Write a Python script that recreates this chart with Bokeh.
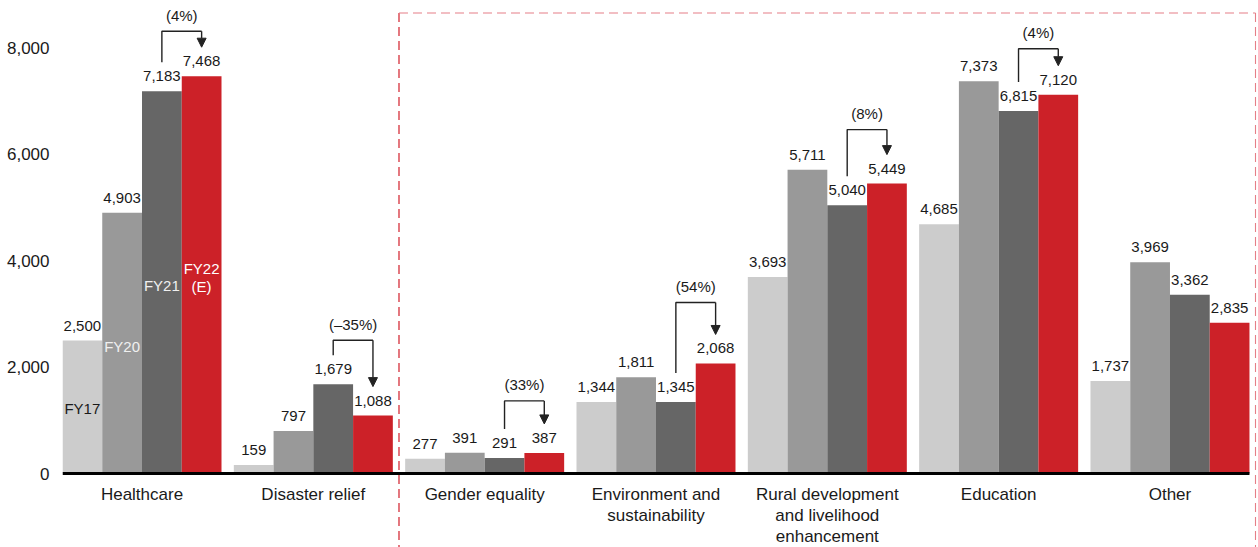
from bokeh.plotting import figure
from bokeh.models import (ColumnDataSource, FixedTicker, NumeralTickFormatter,
                          Arrow, NormalHead, Range1d)
from bokeh.core.properties import value
from bokeh.embed import file_html
from bokeh.resources import INLINE

# ---------------- data ----------------
categories = ["Healthcare", "Disaster relief", "Gender equality",
              "Environment and\nsustainability",
              "Rural development\nand livelihood\nenhancement",
              "Education", "Other"]
series_names = ["FY17", "FY20", "FY21", "FY22\n(E)"]
fy17 = [2500, 159, 277, 1344, 3693, 4685, 1737]
fy20 = [4903, 797, 391, 1811, 5711, 7373, 3969]
fy21 = [7183, 1679, 291, 1345, 5040, 6815, 3362]
fy22 = [7468, 1088, 387, 2068, 5449, 7120, 2835]
changes = ["(4%)", "(\u201335%)", "(33%)", "(54%)", "(8%)", "(4%)", None]
y_ticks = [0, 2000, 4000, 6000, 8000]
highlight_from = 2  # first category inside the dashed box

# ---------------- style / layout ----------------
FONT = "Liberation Sans"
colors = ["#cccccc", "#999999", "#666666", "#cc2128"]
legend_colors = ["#1a1a1a", "#f0f0f0", "#f0f0f0", "#ffffff"]
K = 0.0532            # px per data unit
PX_PER_CAT = 171.33
BW = 39.75 / PX_PER_CAT
W, H = 1258, 547
LEFT = 62
frame_w = W - LEFT
x0 = -2 * BW
x1 = x0 + frame_w / PX_PER_CAT
zero_px = 473
y_top = zero_px / K
y_bot = -(H - zero_px) / K

p = figure(width=W, height=H, output_backend="svg", toolbar_location=None,
           x_axis_type=None, x_range=Range1d(x0, x1), y_range=Range1d(y_bot, y_top),
           min_border_left=LEFT, min_border_right=0, min_border_top=0,
           min_border_bottom=0, outline_line_color=None)
p.grid.visible = False
p.yaxis.ticker = FixedTicker(ticks=y_ticks)
p.yaxis.formatter = NumeralTickFormatter(format="0,0")
p.yaxis.axis_line_color = None
p.yaxis.major_tick_line_color = None
p.yaxis.minor_tick_line_color = None
p.yaxis.major_tick_out = 0
p.yaxis.major_tick_in = 0
p.yaxis.major_label_standoff = 13
p.yaxis.major_label_text_font = FONT
p.yaxis.major_label_text_font_size = "17px"
p.yaxis.major_label_text_color = "#1a1a1a"

idx = list(range(len(categories)))
all_series = [fy17, fy20, fy21, fy22]

# dashed highlight box
box_left = highlight_from - 0.5
box_right = x0 + (1255 - LEFT) / PX_PER_CAT
box_top = (zero_px - 12.5) / K
p.segment(x0=[box_left], y0=[box_top], x1=[box_left], y1=[y_bot - 500],
          line_color="#d21e2a", line_width=1.2, line_dash="9 5")
p.segment(x0=[box_left, box_right], y0=[box_top, box_top],
          x1=[box_right, box_right], y1=[box_top, y_bot - 500],
          line_color="#e57f87", line_width=1.1, line_dash="9 5")

# bars + value labels
for j, vals in enumerate(all_series):
    xs = [i + (j - 1.5) * BW for i in idx]
    src = ColumnDataSource(dict(x=xs, top=vals, lab=[f"{v:,}" for v in vals]))
    p.vbar(x="x", top="top", bottom=0, width=BW, source=src,
           fill_color=colors[j], line_color=None)
    p.text(x="x", y="top", text="lab", source=src, text_align="center",
           text_baseline="middle", y_offset=-15, text_font=value(FONT),
           text_font_size="15px", text_color="#1a1a1a")

# baseline
p.segment(x0=[x0], y0=[0], x1=[idx[-1] + 2 * BW], y1=[0],
          line_color="#000000", line_width=3)

# series labels inside the first group
legend_px = [408, 346, 285, 277]
p.text(x=[0 + (j - 1.5) * BW for j in range(4)],
       y=[(zero_px - v) / K for v in legend_px],
       text=series_names, text_align="center", text_baseline="middle",
       text_font=value(FONT), text_font_size="15px", text_color=legend_colors,
       text_line_height=1.1)

# category labels
p.text(x=idx, y=[0] * len(idx), text=categories, text_align="center",
       text_baseline="top", y_offset=11, text_font=value(FONT),
       text_font_size="17px", text_color="#1a1a1a", text_line_height=1.12)

# change brackets
rise_px = [16, 15, 23, 32, 25, 17]
gap = 29 / K
bx, by, ax, ay0, ay1, tx, ty, tt = [], [], [], [], [], [], [], []
for i, ch in enumerate(changes):
    if ch is None:
        continue
    xl = i + 0.5 * BW
    xr = i + 1.5 * BW
    start = fy21[i] + gap
    tip = fy22[i] + gap
    top = max(start, tip) + rise_px[i] / K
    bx.append([xl, xl, xr])
    by.append([start, top, top])
    ax.append(xr); ay0.append(top); ay1.append(tip)
    tx.append(i + BW); ty.append(top); tt.append(ch)
p.multi_line(xs=bx, ys=by, line_color="#222222", line_width=1.4)
asrc = ColumnDataSource(dict(x=ax, y0=ay0, y1=ay1))
p.add_layout(Arrow(x_start="x", y_start="y0", x_end="x", y_end="y1", source=asrc,
                   line_color="#222222", line_width=1.4,
                   end=NormalHead(size=9, fill_color="#222222", line_color="#222222")))
p.text(x=tx, y=ty, text=tt, text_align="center", text_baseline="middle",
       y_offset=-16, text_font=value(FONT), text_font_size="15px",
       text_color="#1a1a1a")

open("out.html", "w").write(file_html(p, INLINE))
